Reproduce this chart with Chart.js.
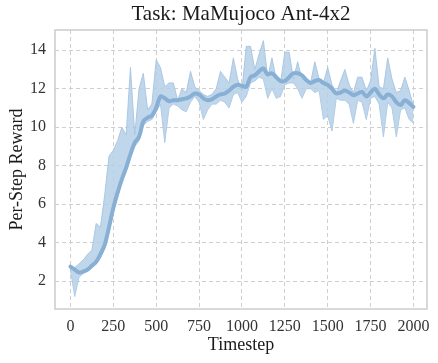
<!DOCTYPE html>
<html>
<head>
<meta charset="utf-8">
<script src="https://cdn.jsdelivr.net/npm/chart.js@4/dist/chart.umd.min.js"></script>
<style>
  html, body { margin: 0; padding: 0; background: #fff; }
  #wrap { width: 438px; height: 363px; }
</style>
</head>
<body>
<div id="wrap"><canvas id="rewardChart" width="438" height="363"></canvas></div>
<script>
// Timesteps (x) and rewards
const timesteps = [0, 25, 50, 75, 100, 125, 150, 175, 200, 225, 250, 275, 300, 325, 350, 375, 400, 425, 450, 475,
    500, 525, 550, 575, 600, 625, 650, 675, 700, 725, 750, 775, 800, 825, 850, 875, 900, 925, 950, 975,
    1000, 1025, 1050, 1075, 1100, 1125, 1150, 1175, 1200, 1225, 1250, 1275, 1300, 1325, 1350, 1375, 1400, 1425, 1450, 1475,
    1500, 1525, 1550, 1575, 1600, 1625, 1650, 1675, 1700, 1725, 1750, 1775, 1800, 1825, 1850, 1875, 1900, 1925, 1950, 1975, 2000];

const smoothReward = [2.75, 2.6, 2.45, 2.5, 2.6, 2.8, 3.0, 3.4, 3.9, 4.8, 5.8, 6.6, 7.3, 7.9, 8.6, 9.2, 9.5, 10.3, 10.5, 10.6,
    11.0, 11.6, 11.5, 11.35, 11.4, 11.4, 11.45, 11.5, 11.6, 11.75, 11.7, 11.5, 11.4, 11.45, 11.6, 11.7, 11.75, 11.9, 12.1, 12.2,
    12.15, 12.1, 12.6, 12.7, 12.9, 13.05, 12.75, 12.8, 12.6, 12.4, 12.4, 12.6, 12.8, 12.8, 12.7, 12.45, 12.3, 12.4, 12.45, 12.3,
    12.2, 12.0, 11.75, 11.8, 11.9, 11.8, 11.66, 11.75, 11.83, 11.6, 11.8, 12.0, 11.7, 11.5, 11.7, 11.6, 11.3, 11.15, 11.4, 11.25, 11.05];

const upperReward = [2.8, 2.7, 2.9, 3.1, 3.4, 3.6, 5.0, 4.8, 6.5, 8.5, 8.8, 9.3, 10.0, 9.6, 13.1, 9.6, 12.0, 12.8, 10.9, 11.2,
    13.5, 13.1, 12.1, 12.3, 12.3, 11.4, 12.0, 11.8, 12.9, 12.1, 11.9, 11.7, 11.6, 11.7, 12.0, 12.9, 12.6, 12.3, 13.6, 12.5,
    11.9, 14.2, 14.2, 13.0, 13.8, 14.5, 12.6, 13.6, 12.5, 12.3, 13.9, 13.9, 12.5, 13.4, 12.5, 12.4, 12.3, 13.4, 12.5, 12.3,
    13.1, 12.2, 11.8, 12.4, 13.0, 12.2, 11.8, 12.6, 12.6, 11.9, 12.4, 14.1, 12.1, 12.0, 13.6, 12.5, 11.8, 11.9, 12.6, 11.9, 11.1];

const lowerReward = [2.6, 1.2, 2.2, 2.4, 2.5, 2.7, 2.9, 3.2, 3.7, 4.6, 5.6, 6.4, 7.1, 7.7, 8.4, 9.0, 9.3, 10.1, 10.3, 10.4,
    10.8, 11.2, 9.2, 11.0, 11.2, 11.1, 10.9, 10.8, 11.3, 11.6, 11.3, 10.4, 10.9, 11.2, 11.2, 11.4, 11.3, 11.0, 11.7, 11.8,
    11.3, 11.6, 12.3, 12.4, 12.6, 12.5, 11.5, 12.0, 11.5, 11.6, 12.2, 12.3, 12.3, 12.0, 11.5, 12.0, 12.0, 11.8, 11.9, 10.4,
    10.6, 9.8, 11.5, 11.4, 11.4, 11.2, 10.2, 11.4, 11.3, 10.4, 11.5, 11.6, 11.2, 9.5, 11.3, 11.0, 9.5, 10.9, 11.0, 10.4, 10.2];

const xTicks = [0, 250, 500, 750, 1000, 1250, 1500, 1750, 2000];
const yTicks = [2, 4, 6, 8, 10, 12, 14];

const toPoints = vals => vals.map((v, i) => ({ x: timesteps[i], y: v }));

const SERIF = "'Liberation Serif', 'DejaVu Serif', serif";
const gridColor = '#cfcfcf';

// titles drawn relative to the plot area
const textPlugin = {
    id: 'textPlugin',
    afterDraw(chart) {
        const { ctx, chartArea } = chart;
        const cx = (chartArea.left + chartArea.right) / 2;
        const cy = (chartArea.top + chartArea.bottom) / 2;
        ctx.save();
        ctx.fillStyle = '#1a1a1a';
        ctx.textAlign = 'center';
        ctx.textBaseline = 'middle';
        ctx.font = `21px ${SERIF}`;
        ctx.fillText('Task: MaMujoco Ant-4x2', cx, 14);
        ctx.font = `18px ${SERIF}`;
        ctx.fillText('Timestep', cx, 345);
        ctx.translate(17, cy);
        ctx.rotate(-Math.PI / 2);
        ctx.fillText('Per-Step Reward', 0, 0);
        ctx.restore();
        // plot frame
        ctx.save();
        ctx.strokeStyle = '#cccccc';
        ctx.lineWidth = 1.5;
        ctx.strokeRect(chartArea.left, chartArea.top, chartArea.right - chartArea.left, chartArea.bottom - chartArea.top);
        ctx.restore();
    }
};

const ctx = document.getElementById('rewardChart').getContext('2d');
new Chart(ctx, {
    type: 'line',
    data: {
        datasets: [
            {
                data: toPoints(upperReward),
                borderColor: 'rgba(165, 196, 226, 0.9)',
                borderWidth: 1,
                backgroundColor: 'rgba(180, 207, 232, 0.85)',
                fill: '+1',
                pointRadius: 0,
                tension: 0,
                order: 1
            },
            {
                data: toPoints(lowerReward),
                borderColor: 'rgba(165, 196, 226, 0.9)',
                borderWidth: 1,
                fill: false,
                pointRadius: 0,
                tension: 0,
                order: 1
            },
            {
                data: toPoints(smoothReward),
                borderColor: '#88afd4',
                borderWidth: 4,
                fill: false,
                pointRadius: 0,
                tension: 0.35,
                borderCapStyle: 'round',
                borderJoinStyle: 'round',
                order: 0
            }
        ]
    },
    options: {
        responsive: false,
        animation: false,
        events: [],
        layout: { padding: { left: 0, right: 11, top: 30, bottom: 0 } },
        plugins: {
            legend: { display: false },
            tooltip: { enabled: false }
        },
        scales: {
            x: {
                type: 'linear',
                min: -90,
                max: 2079,
                afterFit: s => { s.height = 54; },
                afterBuildTicks: s => { s.ticks = xTicks.map(v => ({ value: v })); },
                border: { display: false, dash: [4, 3] },
                grid: { color: gridColor, lineWidth: 1, drawTicks: false },
                ticks: {
                    padding: 8,
                    color: '#333',
                    font: { family: SERIF, size: 16 },
                    maxRotation: 0,
                    autoSkip: false,
                    callback: v => String(v)
                }
            },
            y: {
                type: 'linear',
                min: 0.55,
                max: 15.05,
                afterFit: s => { s.width = 55; },
                afterBuildTicks: s => { s.ticks = yTicks.map(v => ({ value: v })); },
                border: { display: false, dash: [4, 3] },
                grid: { color: gridColor, lineWidth: 1, drawTicks: false },
                ticks: {
                    padding: 9,
                    color: '#333',
                    font: { family: SERIF, size: 16 },
                    callback: v => String(v)
                }
            }
        }
    },
    plugins: [textPlugin]
});
</script>
</body>
</html>
